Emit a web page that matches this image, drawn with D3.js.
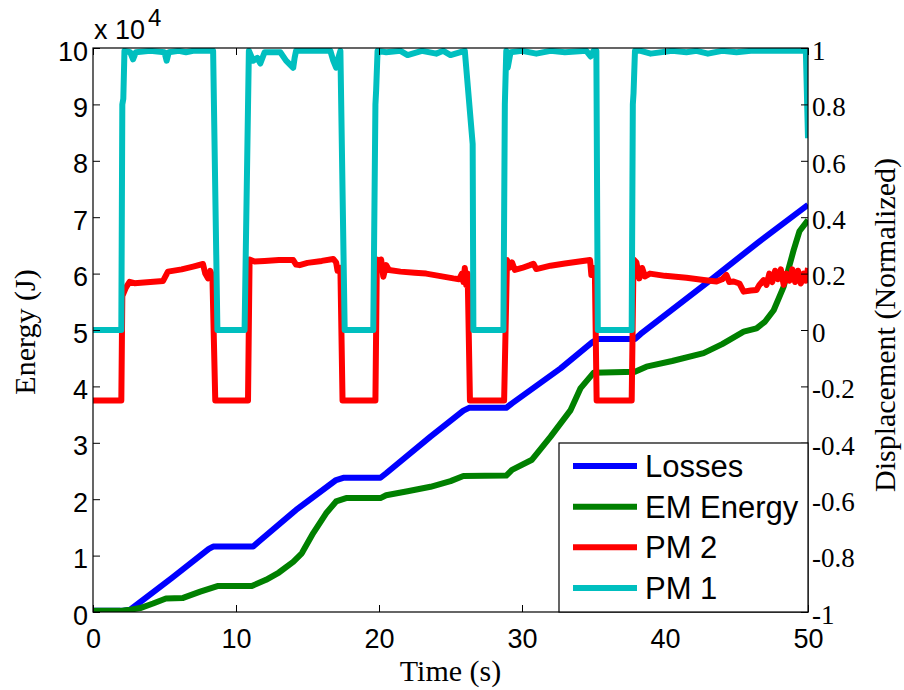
<!DOCTYPE html>
<html>
<head>
<meta charset="utf-8">
<script src="https://cdn.jsdelivr.net/npm/d3@7"></script>
<style>
  html, body { margin: 0; padding: 0; background: #fff; }
  svg { display: block; }
</style>
</head>
<body>
<div id="chart"></div>
<script>
// ---- data -------------------------------------------------------------
// Left axis: energy in units of 1e4 J
const lossesT = [0, 2.0, 2.6, 5.5, 8.1, 8.4, 11.2, 11.6, 14.2, 17.0, 17.5, 20.1, 20.5, 23.6, 25.9, 26.3, 28.9, 29.3, 32.7, 34.9, 35.3, 37.9, 38.3, 43.2, 46.5, 50];
const lossesE = [0.02, 0.02, 0.04, 0.6, 1.12, 1.16, 1.16, 1.25, 1.81, 2.34, 2.38, 2.38, 2.46, 3.11, 3.57, 3.62, 3.62, 3.70, 4.32, 4.78, 4.84, 4.84, 4.93, 5.89, 6.55, 7.22];

const emT = [0, 1.9, 2.6, 3.3, 4.2, 5.1, 6.3, 7.5, 8.7, 11.1, 12.1, 13.0, 14.0, 14.6, 15.4, 16.3, 17.0, 17.7, 20.1, 20.5, 22.0, 23.6, 25.0, 25.9, 28.9, 29.3, 30.7, 32.0, 33.4, 34.1, 35.0, 37.9, 38.7, 40.5, 42.7, 44.0, 45.5, 46.4, 47.0, 47.6, 48.3, 49.0, 49.4, 50];
const emE = [0.02, 0.02, 0.04, 0.07, 0.15, 0.24, 0.25, 0.36, 0.46, 0.46, 0.57, 0.70, 0.89, 1.04, 1.40, 1.75, 1.96, 2.02, 2.02, 2.07, 2.14, 2.22, 2.32, 2.41, 2.42, 2.52, 2.70, 3.11, 3.58, 3.97, 4.24, 4.26, 4.35, 4.45, 4.59, 4.75, 4.97, 5.03, 5.15, 5.35, 5.77, 6.42, 6.75, 6.95];

// Right axis: normalized displacement
const pm2T = [0, 1.98, 2.05, 2.3, 2.56, 2.9, 4.9, 5.24, 6.2, 7.0, 7.69, 7.85, 8.04, 8.2, 8.35, 8.55,
  10.84, 10.95, 11.3, 12.0, 13.0, 14.0, 14.2, 14.45, 15.0, 16.0, 16.8, 17.0, 17.1, 17.3, 17.45,
  19.75, 19.85, 20.0, 20.15, 20.3, 20.5, 20.7, 21.5, 22.5, 23.3, 24.2, 25.2, 25.6, 25.8, 25.9, 26.0, 26.1, 26.2, 26.36,
  28.75, 28.95, 29.1, 29.3, 29.5, 30.0, 30.56, 30.8, 31.0, 32.0, 33.0, 34.0, 34.76, 34.85, 35.0, 35.1, 35.22,
  37.67, 37.8, 38.0, 38.2, 38.4, 38.6, 38.95, 40.0, 41.5, 42.7, 43.6, 44.0, 44.3, 44.5, 44.8, 45.2, 45.5, 46.0, 46.4, 46.6, 46.9,
  47.1, 47.3, 47.5, 47.7, 47.9, 48.1, 48.3, 48.5, 48.7, 48.9, 49.1, 49.3, 49.5, 49.7, 49.85, 50];
const pm2D = [-0.25, -0.25, 0.12, 0.15, 0.171, 0.166, 0.174, 0.207, 0.215, 0.225, 0.234, 0.2, 0.183, 0.21, 0.19, -0.25,
  -0.25, 0.25, 0.243, 0.245, 0.248, 0.248, 0.232, 0.23, 0.238, 0.245, 0.252, 0.24, 0.21, 0.22, -0.25,
  -0.25, 0.25, 0.22, 0.25, 0.189, 0.23, 0.213, 0.207, 0.203, 0.2, 0.192, 0.183, 0.18, 0.2, 0.17, 0.22, 0.16, 0.2, -0.25,
  -0.25, 0.248, 0.22, 0.24, 0.213, 0.22, 0.23, 0.235, 0.216, 0.228, 0.236, 0.243, 0.248, 0.195, 0.22, 0.19, -0.25,
  -0.25, 0.25, 0.24, 0.183, 0.22, 0.19, 0.2, 0.192, 0.185, 0.177, 0.172, 0.18, 0.195, 0.17, 0.172, 0.165, 0.136, 0.14, 0.142, 0.16, 0.177,
  0.16, 0.2, 0.17, 0.21, 0.18, 0.215, 0.16, 0.2, 0.175, 0.215, 0.17, 0.21, 0.165, 0.2, 0.175, 0.22];

const pm1T = [0, 1.98, 2.05, 2.12, 2.2, 2.6, 2.8, 3.0, 4.0, 5.0, 5.15, 5.3, 6.0, 6.5, 7.0, 8.4, 8.7,
  10.6, 10.9, 11.2, 11.5, 11.7, 12.0, 13.1, 13.5, 14.0, 14.1, 14.2, 16.6, 16.8, 17.0, 17.1, 17.3, 17.6,
  19.6, 19.75, 19.8, 19.9, 20.5, 21.5, 22.0, 23.0, 24.0, 24.5, 25.0, 26.0, 26.55, 26.6,
  28.7, 28.8, 28.9, 29.0, 29.2, 30.0, 31.0, 32.0, 33.0, 34.5, 34.8, 35.0, 35.2, 35.3,
  37.67, 37.75, 37.8, 37.9, 38.3, 39.0, 40.5, 41.5, 42.2, 43.0, 44.0, 45.0, 46.0, 47.5, 49.75, 49.85, 50];
const pm1D = [0, 0, 0.8, 0.82, 0.99, 0.985, 0.96, 0.985, 0.99, 0.985, 0.955, 0.985, 0.99, 0.985, 0.99, 0.99, 0,
  0, 0.99, 0.955, 0.965, 0.945, 0.985, 0.985, 0.955, 0.93, 0.965, 0.99, 0.99, 0.955, 0.93, 0.955, 0.99, 0,
  0, 0.8, 0.85, 0.99, 0.985, 0.99, 0.975, 0.99, 0.98, 0.99, 0.975, 0.99, 0.66, 0,
  0, 0.8, 0.99, 0.93, 0.985, 0.99, 0.98, 0.99, 0.985, 0.99, 0.97, 0.99, 0.99, 0,
  0, 0.8, 0.84, 0.99, 0.99, 0.98, 0.99, 0.985, 0.99, 0.98, 0.99, 0.985, 0.99, 0.99, 0.99, 0.99, 0.68];

const xTicks = [0, 10, 20, 30, 40, 50];
const yLeftTicks = [0, 1, 2, 3, 4, 5, 6, 7, 8, 9, 10];
const yRightTicks = [-1, -0.8, -0.6, -0.4, -0.2, 0, 0.2, 0.4, 0.6, 0.8, 1];
const yRightLabels = ["-1", "-0.8", "-0.6", "-0.4", "-0.2", "0", "0.2", "0.4", "0.6", "0.8", "1"];
const legendNames = ["Losses", "EM Energy", "PM 2", "PM 1"];
const seriesColors = ["#0000ff", "#008000", "#ff0000", "#00bfbf"];

// ---- layout ----------------------------------------------------------
const W = 904, H = 690;
const plot = { left: 93, right: 808, top: 48, bottom: 612 };
const sans = "'Liberation Sans', Arial, sans-serif";
const serif = "'Liberation Serif', 'Times New Roman', serif";

const svg = d3.select("#chart").append("svg").attr("width", W).attr("height", H);

const x = d3.scaleLinear().domain([0, 50]).range([plot.left, plot.right]);
const yL = d3.scaleLinear().domain([0, 10]).range([plot.bottom, plot.top]);
const yR = d3.scaleLinear().domain([-1, 1]).range([plot.bottom, plot.top]);

const zip = (ts, vs) => ts.map((t, i) => [t, vs[i]]);
const lineL = d3.line().x(d => x(d[0])).y(d => yL(d[1]));
const lineR = d3.line().x(d => x(d[0])).y(d => yR(d[1]));

// lines are clipped to the axes box
svg.append("clipPath").attr("id", "plotClip").append("rect")
  .attr("x", plot.left).attr("y", plot.top)
  .attr("width", plot.right - plot.left).attr("height", plot.bottom - plot.top);

const lines = svg.append("g").attr("clip-path", "url(#plotClip)");
const strokeW = 6;
const drawLine = (data, gen, color) => lines.append("path")
  .attr("d", gen(data)).attr("fill", "none").attr("stroke", color)
  .attr("stroke-width", strokeW).attr("stroke-linejoin", "round").attr("stroke-linecap", "butt");

drawLine(zip(lossesT, lossesE), lineL, seriesColors[0]);
drawLine(zip(emT, emE), lineL, seriesColors[1]);
drawLine(zip(pm2T, pm2D), lineR, seriesColors[2]);
drawLine(zip(pm1T, pm1D), lineR, seriesColors[3]);

// ---- axes ------------------------------------------------------------
const tickLen = 7;
const axisBottom = svg.append("g").attr("transform", `translate(0,${plot.bottom})`)
  .call(d3.axisBottom(x).tickValues(xTicks).tickSize(-tickLen).tickPadding(17).tickFormat(d3.format("d")));
const axisTop = svg.append("g").attr("transform", `translate(0,${plot.top})`)
  .call(d3.axisTop(x).tickValues(xTicks).tickSize(-tickLen).tickFormat(""));
const axisLeft = svg.append("g").attr("transform", `translate(${plot.left},0)`)
  .call(d3.axisLeft(yL).tickValues(yLeftTicks).tickSize(-tickLen).tickPadding(5).tickFormat(d3.format("d")));
const axisRight = svg.append("g").attr("transform", `translate(${plot.right},0)`)
  .call(d3.axisRight(yR).tickValues(yRightTicks).tickSize(-tickLen).tickPadding(4)
    .tickFormat((d, i) => yRightLabels[i]));

[axisBottom, axisTop, axisLeft, axisRight].forEach(g => {
  g.select(".domain").remove();
  g.selectAll(".tick line").attr("stroke", "#000").attr("stroke-width", 1);
});
axisBottom.selectAll("text").attr("font-family", sans).attr("font-size", 27).attr("fill", "#000");
axisLeft.selectAll("text").attr("font-family", sans).attr("font-size", 27).attr("fill", "#000").attr("dy", "0.45em");
axisRight.selectAll("text").attr("font-family", serif).attr("font-size", 27).attr("fill", "#000").attr("dy", "0.42em");

// frame
svg.append("rect").attr("x", plot.left).attr("y", plot.top)
  .attr("width", plot.right - plot.left).attr("height", plot.bottom - plot.top)
  .attr("fill", "none").attr("stroke", "#000").attr("stroke-width", 1.2);

// exponent label
const expo = svg.append("text").attr("x", 94).attr("y", 39)
  .attr("font-family", sans).attr("font-size", 27).attr("fill", "#000");
expo.append("tspan").text("x 10");
expo.append("tspan").attr("dx", 3).attr("dy", -13).attr("font-size", 24).text("4");

// axis titles
svg.append("text").attr("x", (plot.left + plot.right) / 2).attr("y", 681)
  .attr("text-anchor", "middle").attr("font-family", serif).attr("font-size", 30).text("Time (s)");
svg.append("text").attr("transform", `translate(35,${(plot.top + plot.bottom) / 2 + 2}) rotate(-90)`)
  .attr("text-anchor", "middle").attr("font-family", serif).attr("font-size", 30).text("Energy (J)");
svg.append("text").attr("transform", `translate(895,${(plot.top + plot.bottom) / 2 - 5}) rotate(-90)`)
  .attr("text-anchor", "middle").attr("font-family", serif).attr("font-size", 30).text("Displacement (Normalized)");

// ---- legend ----------------------------------------------------------
const lg = { x: 559, y: 443, w: 249, h: 169 };
const legend = svg.append("g");
legend.append("rect").attr("x", lg.x).attr("y", lg.y).attr("width", lg.w).attr("height", lg.h)
  .attr("fill", "#fff").attr("stroke", "#000").attr("stroke-width", 1.2);
const rowY = d3.scalePoint().domain(legendNames).range([466, 588]);
legendNames.forEach((name, i) => {
  legend.append("line").attr("x1", 573).attr("x2", 637).attr("y1", rowY(name)).attr("y2", rowY(name))
    .attr("stroke", seriesColors[i]).attr("stroke-width", strokeW);
  legend.append("text").attr("x", 645).attr("y", rowY(name) + 11)
    .attr("font-family", sans).attr("font-size", 31).attr("fill", "#000").text(name);
});
</script>
</body>
</html>
